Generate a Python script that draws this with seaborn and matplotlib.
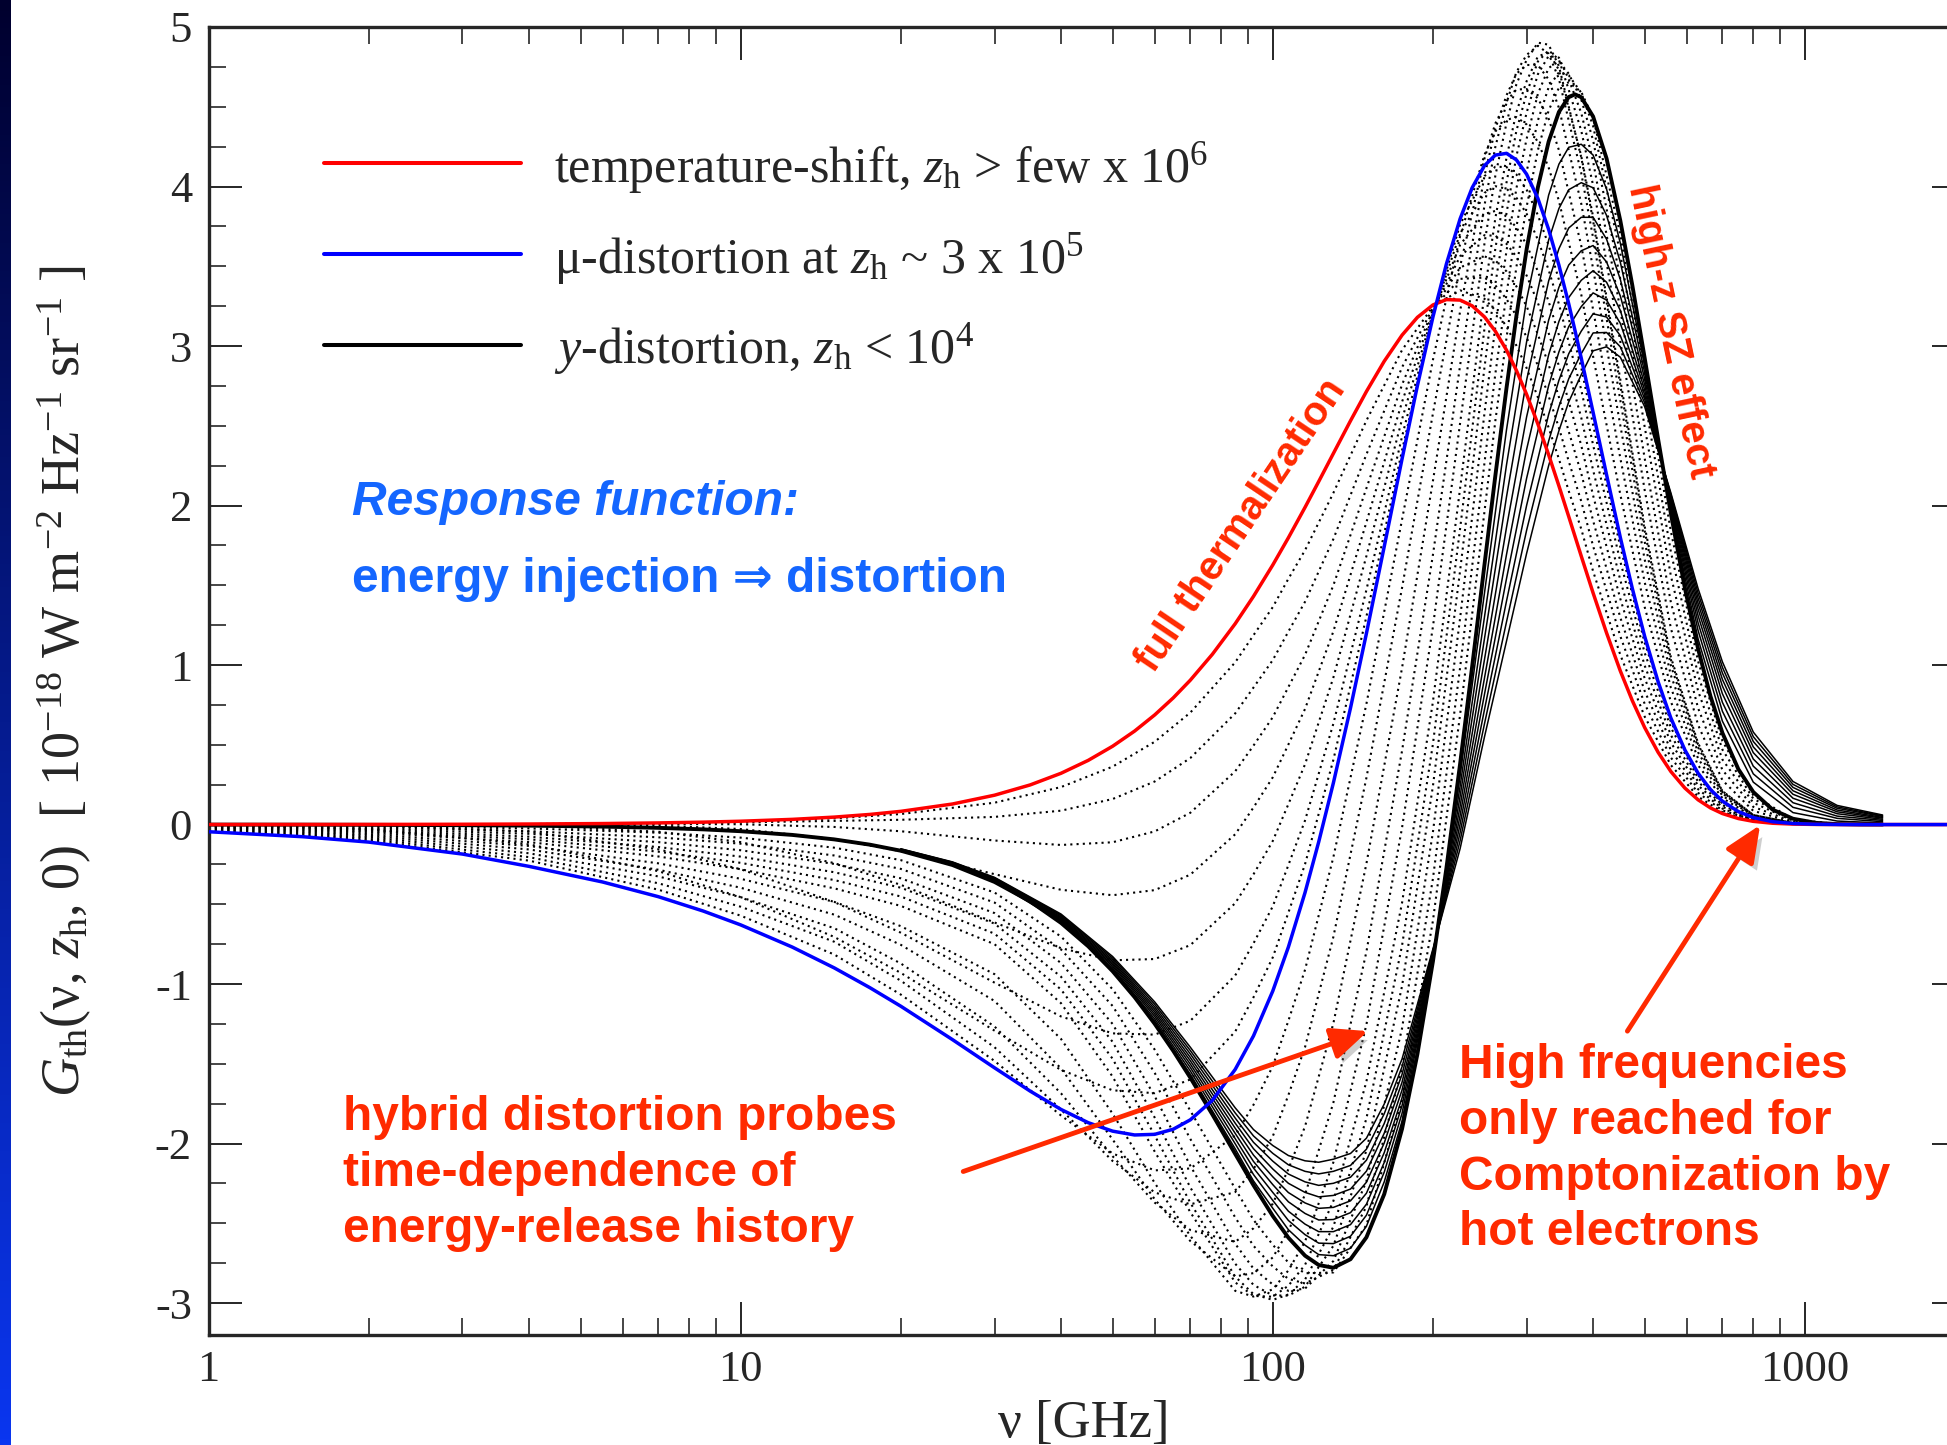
import numpy as np
import pandas as pd
import matplotlib
matplotlib.use("Agg")
import matplotlib.pyplot as plt
import matplotlib.patheffects as pe
from matplotlib.lines import Line2D
from matplotlib.colors import LinearSegmentedColormap
from matplotlib.ticker import LogLocator, MultipleLocator, NullFormatter
import seaborn as sns

# ---- values: G_th in units of 1e-18 W m^-2 Hz^-1 sr^-1 ----
# frequency grid [GHz] for the three reference curves
nu_main = [1, 1.5, 2, 3, 4, 5.5, 7, 8.5, 10, 12.5, 15, 17.5, 20, 25, 30, 35, 40, 45,
           50, 55, 60, 65, 70, 77, 85, 92, 100, 107, 115, 122, 130, 140, 150, 162,
           175, 187, 200, 212, 225, 237, 250, 262, 275, 287, 300, 315, 330, 345, 360,
           370, 380, 400, 424, 450, 474, 500, 530, 560, 595, 630, 665, 700, 750, 800,
           870, 950, 1050, 1150, 1270, 1400]
# red and blue run on along zero up to the right edge
nu_main_ext = [1, 1.5, 2, 3, 4, 5.5, 7, 8.5, 10, 12.5, 15, 17.5, 20, 25, 30, 35, 40, 45,
               50, 55, 60, 65, 70, 77, 85, 92, 100, 107, 115, 122, 130, 140, 150, 162,
               175, 187, 200, 212, 225, 237, 250, 262, 275, 287, 300, 315, 330, 345, 360,
               370, 380, 400, 424, 450, 474, 500, 530, 560, 595, 630, 665, 700, 750, 800,
               870, 950, 1050, 1150, 1270, 1400, 2000]

temp_shift = [0.0002, 0.0005, 0.0008, 0.0019, 0.0034, 0.0063, 0.0103, 0.0151, 0.0209,
              0.0326, 0.0468, 0.0636, 0.0829, 0.1288, 0.1841, 0.2485, 0.3215, 0.4025,
              0.4909, 0.5861, 0.6874, 0.7940, 0.9053, 1.0674, 1.2591, 1.4305, 1.6271,
              1.7980, 1.9889, 2.1505, 2.3266, 2.5312, 2.7151, 2.9047, 3.0684, 3.1798,
              3.2575, 3.2911, 3.2879, 3.2520, 3.1826, 3.0930, 2.9742, 2.8472, 2.6965,
              2.5111, 2.3183, 2.1232, 1.9306, 1.8052, 1.6831, 1.4521, 1.2013, 0.9631,
              0.7768, 0.6084, 0.4528, 0.3327, 0.2289, 0.1553, 0.1041, 0.0690, 0.0377,
              0.0202, 0.0082, 0.0029, 0.0007, 0.0002, 0.0, 0.0, 0.0]

mu_dist = [-0.045, -0.076, -0.11, -0.185, -0.262, -0.360, -0.452, -0.542, -0.629,
           -0.768, -0.899, -1.023, -1.139, -1.348, -1.525, -1.671, -1.786, -1.869,
           -1.922, -1.946, -1.942, -1.910, -1.851, -1.729, -1.535, -1.325, -1.044,
           -0.768, -0.426, -0.109, 0.261, 0.731, 1.199, 1.743, 2.293, 2.751, 3.182,
           3.514, 3.798, 3.992, 4.131, 4.197, 4.208, 4.167, 4.077, 3.925, 3.731, 3.507,
           3.264, 3.095, 2.924, 2.584, 2.193, 1.800, 1.480, 1.180, 0.895, 0.668, 0.468,
           0.322, 0.219, 0.147, 0.081, 0.044, 0.018, 0.0065, 0.0017, 0.0004, 0.0001,
           0.0, 0.0]

y_dist = [-0.0004, -0.0009, -0.0017, -0.0038, -0.0067, -0.0127, -0.0205, -0.0301,
          -0.0417, -0.0649, -0.0931, -0.1262, -0.1641, -0.2534, -0.3597, -0.4814,
          -0.6166, -0.7632, -0.9191, -1.0819, -1.2491, -1.4182, -1.5869, -1.8172,
          -2.0647, -2.2609, -2.4536, -2.5899, -2.7027, -2.7611, -2.7785, -2.7249,
          -2.5874, -2.3170, -1.9075, -1.4393, -0.8577, -0.2745, 0.3822, 0.9901, 1.6298,
          2.1857, 2.7369, 3.1875, 3.6064, 3.9954, 4.2815, 4.4673, 4.5614, 4.5775,
          4.5598, 4.4390, 4.1758, 3.7862, 3.3805, 2.9254, 2.4159, 1.9505, 1.4831,
          1.1020, 0.8027, 0.5746, 0.3471, 0.2041, 0.0934, 0.0365, 0.0106, 0.0030,
          0.0006, 0.0001]

# frequency grid for the dotted Green's functions
nu_dot = [1, 2, 4, 7, 10, 15, 20, 30, 40, 50, 60, 70, 85, 92, 100, 107, 115, 130, 150,
          175, 200, 225, 250, 262, 275, 287, 300, 315, 330, 345, 360, 380, 400, 450,
          500, 560, 630, 700, 800, 950, 1150, 1400]

# dotted: hybrid distortions between the mu and the y era
hybrid_curves = [
    [-0.041, -0.100, -0.226, -0.408, -0.571, -0.815, -1.066, -1.482, -1.824, -2.062, -2.168, -2.156, -1.949, -1.757, -1.515, -1.230, -0.910, -0.204, 0.758, 1.913, 2.913, 3.690, 4.199, 4.345, 4.418, 4.435, 4.389, 4.279, 4.119, 3.910, 3.650, 3.323, 2.935, 2.069, 1.364, 0.770, 0.372, 0.166, 0.049, 0.008, 0.000, 0.0],
    [-0.037, -0.090, -0.204, -0.368, -0.515, -0.735, -0.979, -1.396, -1.787, -2.109, -2.306, -2.381, -2.304, -2.160, -1.955, -1.696, -1.395, -0.704, 0.294, 1.485, 2.577, 3.500, 4.176, 4.395, 4.535, 4.608, 4.611, 4.553, 4.425, 4.228, 3.962, 3.629, 3.228, 2.297, 1.520, 0.858, 0.415, 0.181, 0.053, 0.008, 0.000, 0.0],
    [-0.033, -0.080, -0.180, -0.325, -0.455, -0.650, -0.871, -1.266, -1.685, -2.079, -2.370, -2.542, -2.616, -2.531, -2.377, -2.160, -1.892, -1.246, -0.244, 0.983, 2.154, 3.220, 4.066, 4.362, 4.572, 4.707, 4.762, 4.761, 4.671, 4.493, 4.226, 3.893, 3.485, 2.502, 1.662, 0.936, 0.453, 0.195, 0.057, 0.009, 0.000, 0.0],
    [-0.028, -0.070, -0.156, -0.283, -0.396, -0.565, -0.754, -1.106, -1.529, -1.974, -2.349, -2.611, -2.833, -2.812, -2.714, -2.546, -2.320, -1.743, -0.796, 0.463, 1.691, 2.880, 3.882, 4.248, 4.524, 4.717, 4.825, 4.882, 4.832, 4.675, 4.412, 4.084, 3.678, 2.660, 1.774, 0.998, 0.484, 0.204, 0.059, 0.010, 0.000, 0.0],
    [-0.024, -0.060, -0.134, -0.243, -0.340, -0.485, -0.637, -0.938, -1.344, -1.812, -2.247, -2.579, -2.923, -2.959, -2.914, -2.795, -2.614, -2.117, -1.253, -0.019, 1.240, 2.519, 3.643, 4.067, 4.398, 4.641, 4.794, 4.902, 4.889, 4.755, 4.500, 4.183, 3.785, 2.755, 1.842, 1.035, 0.502, 0.210, 0.060, 0.010, 0.000, 0.0],
    [-0.020, -0.050, -0.110, -0.200, -0.280, -0.400, -0.510, -0.750, -1.120, -1.580, -2.050, -2.430, -2.870, -2.955, -2.960, -2.891, -2.760, -2.360, -1.610, -0.490, 0.770, 2.110, 3.330, 3.801, 4.180, 4.466, 4.660, 4.816, 4.840, 4.731, 4.490, 4.191, 3.810, 2.790, 1.870, 1.050, 0.510, 0.210, 0.060, 0.010, 0.000, 0.0],
    [-0.017, -0.042, -0.092, -0.170, -0.240, -0.348, -0.451, -0.684, -1.034, -1.468, -1.949, -2.371, -2.834, -2.944, -2.980, -2.946, -2.852, -2.521, -1.842, -0.758, 0.505, 1.858, 3.111, 3.610, 4.025, 4.349, 4.584, 4.784, 4.854, 4.795, 4.606, 4.350, 4.007, 3.028, 2.097, 1.231, 0.625, 0.278, 0.086, 0.015, 0.001, 0.0],
    [-0.014, -0.034, -0.076, -0.141, -0.201, -0.299, -0.396, -0.621, -0.954, -1.362, -1.837, -2.275, -2.753, -2.886, -2.952, -2.953, -2.897, -2.641, -2.043, -1.012, 0.241, 1.594, 2.866, 3.388, 3.833, 4.190, 4.463, 4.704, 4.819, 4.808, 4.672, 4.461, 4.158, 3.228, 2.296, 1.394, 0.730, 0.342, 0.111, 0.019, 0.001, 0.0],
    [-0.010, -0.026, -0.058, -0.110, -0.161, -0.247, -0.337, -0.555, -0.868, -1.250, -1.703, -2.139, -2.628, -2.784, -2.883, -2.923, -2.909, -2.736, -2.235, -1.277, -0.047, 1.296, 2.579, 3.121, 3.597, 3.988, 4.299, 4.581, 4.743, 4.785, 4.707, 4.546, 4.290, 3.420, 2.494, 1.560, 0.838, 0.408, 0.137, 0.024, 0.002, 0.0],
    [-0.007, -0.018, -0.041, -0.080, -0.120, -0.194, -0.278, -0.489, -0.783, -1.137, -1.557, -1.971, -2.463, -2.641, -2.770, -2.848, -2.877, -2.791, -2.394, -1.522, -0.339, 0.986, 2.268, 2.825, 3.326, 3.746, 4.093, 4.414, 4.622, 4.716, 4.697, 4.588, 4.380, 3.579, 2.667, 1.711, 0.938, 0.470, 0.162, 0.029, 0.002, 0.0],
    [-0.004, -0.010, -0.024, -0.051, -0.082, -0.145, -0.223, -0.426, -0.702, -1.032, -1.411, -1.794, -2.283, -2.478, -2.634, -2.746, -2.813, -2.808, -2.511, -1.728, -0.603, 0.691, 1.963, 2.530, 3.051, 3.495, 3.873, 4.228, 4.477, 4.619, 4.654, 4.593, 4.432, 3.700, 2.809, 1.839, 1.024, 0.524, 0.184, 0.033, 0.003, 0.0],
]

# dotted: between full thermalization and the mu era
thermal_curves = [
    [0.000, 0.001, 0.003, 0.009, 0.018, 0.039, 0.066, 0.137, 0.235, 0.363, 0.519, 0.702, 1.017, 1.187, 1.363, 1.541, 1.720, 2.079, 2.533, 2.975, 3.248, 3.349, 3.296, 3.224, 3.122, 3.003, 2.862, 2.678, 2.488, 2.292, 2.091, 1.853, 1.588, 1.064, 0.677, 0.373, 0.175, 0.078, 0.023, 0.003, 0.000, 0.0],
    [0.000, 0.001, 0.003, 0.007, 0.014, 0.023, 0.030, 0.048, 0.087, 0.160, 0.270, 0.417, 0.697, 0.859, 1.031, 1.210, 1.397, 1.790, 2.321, 2.867, 3.238, 3.421, 3.429, 3.380, 3.295, 3.188, 3.055, 2.876, 2.686, 2.487, 2.277, 2.027, 1.746, 1.181, 0.757, 0.420, 0.199, 0.089, 0.026, 0.004, 0.000, 0.0],
    [0.000, 0.001, 0.002, 0.004, 0.002, -0.015, -0.042, -0.100, -0.128, -0.111, -0.043, 0.074, 0.334, 0.495, 0.673, 0.862, 1.064, 1.500, 2.109, 2.758, 3.227, 3.492, 3.562, 3.536, 3.468, 3.374, 3.249, 3.073, 2.883, 2.680, 2.464, 2.202, 1.905, 1.298, 0.837, 0.467, 0.222, 0.100, 0.030, 0.004, 0.000, 0.0],
    [0.000, 0.000, 0.001, -0.006, -0.028, -0.091, -0.167, -0.311, -0.409, -0.443, -0.411, -0.314, -0.061, 0.107, 0.296, 0.502, 0.725, 1.211, 1.896, 2.650, 3.217, 3.563, 3.695, 3.691, 3.641, 3.560, 3.442, 3.270, 3.081, 2.875, 2.651, 2.377, 2.063, 1.415, 0.917, 0.514, 0.245, 0.111, 0.033, 0.005, 0.000, 0.0],
    [0.000, 0.000, -0.006, -0.045, -0.110, -0.242, -0.378, -0.614, -0.775, -0.851, -0.843, -0.756, -0.493, -0.312, -0.103, 0.128, 0.378, 0.922, 1.684, 2.541, 3.206, 3.635, 3.828, 3.847, 3.813, 3.744, 3.635, 3.468, 3.279, 3.069, 2.837, 2.551, 2.222, 1.532, 0.997, 0.561, 0.269, 0.122, 0.036, 0.005, 0.000, 0.0],
    [0.000, -0.004, -0.045, -0.155, -0.280, -0.486, -0.678, -0.991, -1.203, -1.309, -1.317, -1.230, -0.946, -0.745, -0.513, -0.254, 0.026, 0.633, 1.472, 2.433, 3.196, 3.706, 3.960, 4.002, 3.986, 3.930, 3.829, 3.666, 3.477, 3.263, 3.024, 2.726, 2.380, 1.649, 1.077, 0.608, 0.292, 0.133, 0.040, 0.006, 0.000, 0.0],
    [-0.003, -0.029, -0.124, -0.292, -0.455, -0.705, -0.930, -1.292, -1.538, -1.666, -1.684, -1.598, -1.298, -1.083, -0.833, -0.552, -0.248, 0.406, 1.305, 2.347, 3.187, 3.762, 4.065, 4.124, 4.122, 4.076, 3.980, 3.820, 3.632, 3.416, 3.171, 2.864, 2.505, 1.741, 1.140, 0.645, 0.310, 0.142, 0.042, 0.006, 0.000, 0.0],
]

# thin solid: high-z SZ (hot electrons), from near the y shape to the hottest one
nu_sz = [20, 25, 30, 40, 50, 60, 70, 85, 92, 100, 107, 115, 122, 130, 140, 150, 162,
         175, 200, 225, 250, 275, 300, 330, 345, 360, 380, 400, 424, 450, 500, 560,
         630, 700, 800, 950, 1150, 1400]
sz_curves = [
    [-0.163, -0.251, -0.357, -0.610, -0.909, -1.234, -1.566, -2.033, -2.234, -2.405, -2.540, -2.637, -2.696, -2.703, -2.656, -2.518, -2.240, -1.859, -0.849, 0.309, 1.452, 2.475, 3.292, 3.946, 4.140, 4.246, 4.265, 4.197, 3.984, 3.645, 2.875, 1.972, 1.164, 0.648, 0.266, 0.075, 0.022, 0.010],
    [-0.161, -0.249, -0.353, -0.604, -0.899, -1.219, -1.545, -2.001, -2.194, -2.356, -2.482, -2.571, -2.624, -2.627, -2.581, -2.449, -2.179, -1.810, -0.840, 0.242, 1.302, 2.255, 3.027, 3.664, 3.862, 3.980, 4.024, 3.992, 3.819, 3.526, 2.833, 1.990, 1.217, 0.710, 0.318, 0.108, 0.039, 0.018],
    [-0.160, -0.247, -0.350, -0.598, -0.888, -1.203, -1.523, -1.969, -2.153, -2.306, -2.424, -2.505, -2.552, -2.552, -2.508, -2.380, -2.118, -1.761, -0.832, 0.179, 1.166, 2.055, 2.787, 3.408, 3.610, 3.740, 3.807, 3.807, 3.670, 3.418, 2.794, 2.006, 1.265, 0.766, 0.366, 0.137, 0.053, 0.026],
    [-0.159, -0.245, -0.347, -0.592, -0.878, -1.188, -1.502, -1.936, -2.112, -2.257, -2.365, -2.438, -2.479, -2.476, -2.433, -2.311, -2.057, -1.713, -0.823, 0.117, 1.035, 1.863, 2.556, 3.162, 3.368, 3.508, 3.597, 3.630, 3.527, 3.314, 2.757, 2.022, 1.310, 0.820, 0.411, 0.165, 0.068, 0.033],
    [-0.157, -0.243, -0.344, -0.586, -0.868, -1.173, -1.481, -1.904, -2.072, -2.208, -2.307, -2.372, -2.406, -2.400, -2.359, -2.242, -1.996, -1.664, -0.815, 0.059, 0.919, 1.693, 2.352, 2.945, 3.154, 3.304, 3.412, 3.472, 3.400, 3.223, 2.724, 2.036, 1.351, 0.868, 0.451, 0.190, 0.080, 0.040],
    [-0.156, -0.240, -0.341, -0.580, -0.858, -1.158, -1.460, -1.872, -2.032, -2.159, -2.249, -2.306, -2.334, -2.325, -2.285, -2.173, -1.935, -1.615, -0.806, 0.004, 0.817, 1.542, 2.171, 2.752, 2.963, 3.122, 3.247, 3.333, 3.288, 3.142, 2.695, 2.048, 1.387, 0.910, 0.487, 0.212, 0.091, 0.045],
    [-0.155, -0.238, -0.337, -0.573, -0.848, -1.143, -1.438, -1.840, -1.992, -2.110, -2.191, -2.240, -2.262, -2.249, -2.211, -2.104, -1.874, -1.566, -0.797, -0.049, 0.721, 1.401, 2.001, 2.571, 2.785, 2.952, 3.093, 3.202, 3.182, 3.065, 2.668, 2.060, 1.420, 0.950, 0.521, 0.233, 0.102, 0.051],
    [-0.153, -0.236, -0.334, -0.567, -0.837, -1.127, -1.417, -1.808, -1.952, -2.061, -2.133, -2.174, -2.190, -2.174, -2.137, -2.035, -1.813, -1.518, -0.789, -0.100, 0.632, 1.271, 1.845, 2.404, 2.621, 2.795, 2.952, 3.082, 3.085, 2.995, 2.643, 2.070, 1.451, 0.986, 0.551, 0.252, 0.111, 0.055],
    [-0.152, -0.234, -0.331, -0.561, -0.827, -1.112, -1.396, -1.776, -1.912, -2.012, -2.075, -2.108, -2.117, -2.098, -2.062, -1.966, -1.752, -1.469, -0.780, -0.150, 0.550, 1.150, 1.700, 2.250, 2.469, 2.650, 2.820, 2.970, 2.995, 2.930, 2.620, 2.080, 1.480, 1.020, 0.580, 0.270, 0.120, 0.060],
]


def to_long(x, curves):
    frames = [pd.DataFrame({"nu": x, "G": c, "curve": k}) for k, c in enumerate(curves)]
    return pd.concat(frames, ignore_index=True)


sns.set_style("ticks")
plt.rcParams["font.family"] = ["Liberation Serif", "DejaVu Serif"]
plt.rcParams["mathtext.fontset"] = "custom"
plt.rcParams["mathtext.rm"] = "Liberation Serif"
plt.rcParams["mathtext.it"] = "Liberation Serif:italic"
plt.rcParams["mathtext.bf"] = "Liberation Serif:bold"
plt.rcParams["axes.unicode_minus"] = False

W, H = 1947, 1445
RED_TXT = "#ff2a00"
BLUE_TXT = "#1466ff"
SANS = ["Liberation Sans", "DejaVu Sans"]

fig = plt.figure(figsize=(W / 100, H / 100), dpi=100)
ax = fig.add_axes([208.6 / W, 110 / H, 1756.4 / W, 1308 / H])

# left edge colour strip
strip = fig.add_axes([0, 0, 11 / W, 1])
strip.imshow(np.linspace(0, 1, 256).reshape(-1, 1), aspect="auto",
             cmap=LinearSegmentedColormap.from_list("edge", ["#00002e", "#0a36f0"]))
strip.axis("off")

dotted = to_long(nu_dot, hybrid_curves + thermal_curves)
sns.lineplot(data=dotted, x="nu", y="G", units="curve", estimator=None, sort=False,
             color="black", lw=1.5, ls=(0, (1, 2)), zorder=2, ax=ax)
sz = to_long(nu_sz, sz_curves)
sns.lineplot(data=sz, x="nu", y="G", units="curve", estimator=None, sort=False,
             color="black", lw=1.1, zorder=3, ax=ax)
sns.lineplot(x=nu_main, y=y_dist, estimator=None, sort=False, color="black", lw=2.8,
             zorder=4, ax=ax)
sns.lineplot(x=nu_main_ext, y=temp_shift, estimator=None, sort=False, color="#ff0000",
             lw=2.5, zorder=5, ax=ax)
sns.lineplot(x=nu_main_ext, y=mu_dist, estimator=None, sort=False, color="#0000ff",
             lw=2.5, zorder=6, ax=ax)

ax.set_xscale("log")
ax.set_xlim(1, 2000)
ax.set_ylim(-3.2, 5)
ax.set_xticks([1, 10, 100, 1000])
ax.set_xticklabels(["1", "10", "100", "1000"])
ax.xaxis.set_minor_locator(LogLocator(base=10, subs=np.arange(2, 10)))
ax.xaxis.set_minor_formatter(NullFormatter())
ax.set_yticks(range(-3, 6))
ax.set_yticklabels([str(v) for v in range(-3, 6)])
ax.yaxis.set_minor_locator(MultipleLocator(0.25))
ax.tick_params(which="both", direction="in", top=True, right=True, width=1.4)
ax.tick_params(which="major", length=24, labelsize=32)
ax.tick_params(which="minor", length=12, width=1.2)
ax.tick_params(axis="y", which="major", pad=12)
ax.tick_params(axis="x", which="major", pad=11)
for s in ax.spines.values():
    s.set_linewidth(2.4)

ax.set_xlabel("ν [GHz]", fontsize=38, va="baseline", ha="center")
ax.xaxis.set_label_coords(0.498, -(1436.7 - 1335) / 1308)
ax.set_ylabel(r"$G_{\rm th}$(ν, $z_{\rm h}$, 0)  [ 10$^{-18}$ W m$^{-2}$ Hz$^{-1}$ sr$^{-1}$ ]",
              fontsize=39, rotation=90, rotation_mode="anchor", ha="center", va="baseline")
ax.yaxis.set_label_coords((80 - 208.6) / 1756.4, 0.5)

# legend block
legend_rows = [
    ("#ff0000", r"temperature-shift, $z_{\rm h}$ > few x 10$^{6}$", 163, 181.7),
    ("#0000ff", r"μ-distortion at $z_{\rm h}$ ~ 3 x 10$^{5}$", 254, 272.7),
    ("black", r"$y$-distortion, $z_{\rm h}$ < 10$^{4}$", 345, 362.7),
]
for col, label, ly, ty in legend_rows:
    fig.add_artist(Line2D([324 / W, 521 / W], [1 - ly / H, 1 - ly / H], color=col,
                          lw=2.9, transform=fig.transFigure))
    fig.text(554 / W, 1 - ty / H, label, fontsize=36, va="baseline", ha="left")

# blue notes
fig.text(351.5 / W, 1 - 515 / H, "Response function:", color=BLUE_TXT, fontsize=34.5,
         family=SANS, weight="bold", style="italic", va="baseline")
fig.text(351.5 / W, 1 - 592 / H, "energy injection ⇒ distortion", color=BLUE_TXT,
         fontsize=34.5, family=SANS, weight="bold", va="baseline")

# red notes
fig.text(1241.5 / W, 1 - 525 / H, "full thermalization", color=RED_TXT, fontsize=29,
         family=SANS, weight="bold", rotation=56, ha="center", va="center",
         rotation_mode="anchor")
fig.text(1671 / W, 1 - 331 / H, "high-z SZ effect", color=RED_TXT, fontsize=29,
         family=SANS, weight="bold", rotation=-78, ha="center", va="center",
         rotation_mode="anchor")
for txt, by in [("hybrid distortion probes", 1130), ("time-dependence of", 1186),
                ("energy-release history", 1242)]:
    fig.text(342.7 / W, 1 - by / H, txt, color=RED_TXT, fontsize=34.5, family=SANS,
             weight="bold", va="baseline")
for txt, by in [("High frequencies", 1078.5), ("only reached for", 1134),
                ("Comptonization by", 1189.5), ("hot electrons", 1245)]:
    fig.text(1459 / W, 1 - by / H, txt, color=RED_TXT, fontsize=34.5, family=SANS,
             weight="bold", va="baseline")

# arrows with a soft shadow
shadow = [pe.withSimplePatchShadow(offset=(4, -5), shadow_rgbFace="0.45", alpha=0.35)]
for tail, tip in [((26.2, -2.175), (151, -1.295)), ((464, -1.295), (824, -0.003))]:
    ax.annotate("", xy=tip, xytext=tail, xycoords="data", textcoords="data", zorder=8,
                arrowprops=dict(arrowstyle="-|>,head_length=0.8,head_width=0.35",
                                color=RED_TXT, lw=3.5, mutation_scale=28,
                                shrinkA=0, shrinkB=0, path_effects=shadow))

fig.savefig("out.png", dpi=100)
